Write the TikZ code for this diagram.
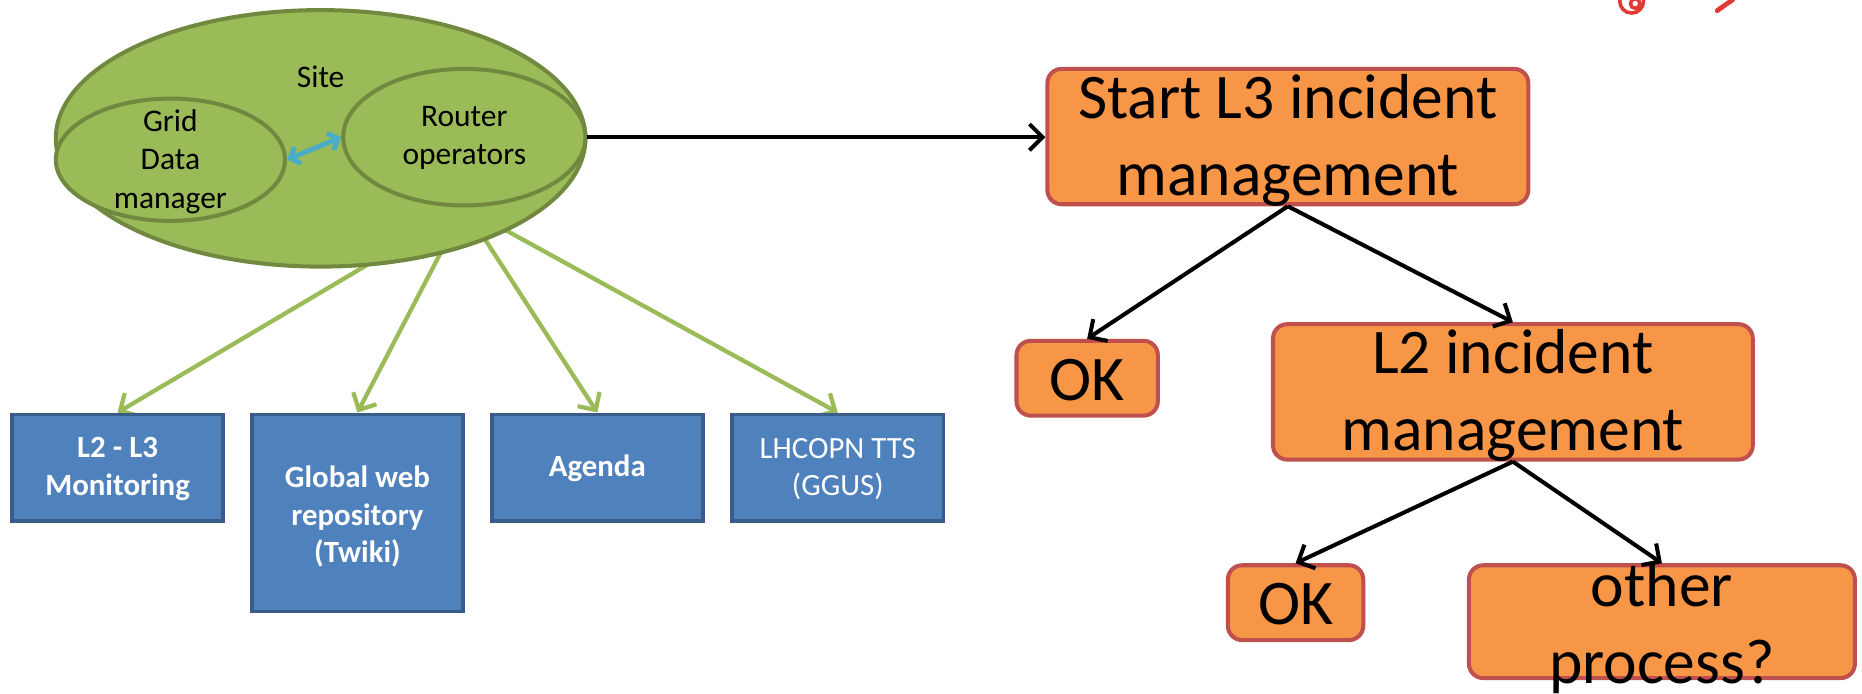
\documentclass[tikz,border=0pt]{standalone}
\usepackage{fontspec}
\setmainfont{Carlito}
\usetikzlibrary{arrows.meta,shapes.geometric}

\definecolor{sitegreen}{HTML}{9BBB59}
\definecolor{siteedge}{HTML}{71893F}
\definecolor{toolblue}{HTML}{4F81BD}
\definecolor{tooledge}{HTML}{385D8A}
\definecolor{procorange}{HTML}{F79646}
\definecolor{procedge}{HTML}{C0504D}
\definecolor{linkcyan}{HTML}{4BACC6}
\definecolor{logored}{HTML}{E03A33}

\pgfdeclarelayer{background}
\pgfsetlayers{background,main}

\begin{document}
\begin{tikzpicture}[x=1pt,y=-1pt,
  zone/.style={ellipse, draw=siteedge, fill=sitegreen, line width=3.4pt, inner sep=0pt},
  toolbox/.style={rectangle, draw=tooledge, fill=toolblue, line width=3.2pt, inner sep=0pt, minimum width=178pt},
  procbox/.style={rectangle, rounded corners=12pt, draw=procedge, fill=procorange, line width=3.4pt, inner sep=0pt},
  tooltext/.style={text=white, font=\fontsize{26}{31.5}\selectfont\bfseries, align=center},
  toolplain/.style={text=white, font=\fontsize{26}{31.5}\selectfont, align=center},
  proctext/.style={font=\fontsize{53.5}{65}\selectfont, align=center},
  zonetext/.style={font=\fontsize{26.5}{32.3}\selectfont, align=center},
  feed/.style={draw=sitegreen, line width=3.6pt, -{Straight Barb[length=11pt,width=22pt]}},
  flow/.style={draw=black, line width=3.4pt, -{Straight Barb[length=11pt,width=22pt]}},
  pairlink/.style={draw=linkcyan, line width=4.2pt, {Straight Barb[length=7pt,width=15pt]}-{Straight Barb[length=7pt,width=15pt]}}
]
\useasboundingbox (0,0) rectangle (1568,584);

% site and its two groups
\node[zone, minimum width=446pt, minimum height=216pt] (site) at (270,116.5) {};
\node[zone, minimum width=193pt, minimum height=103pt] (grid) at (143.5,134.5) {};
\node[zone, minimum width=204pt, minimum height=115pt] (router) at (391,115.5) {};
\node[zonetext] (sitelabel) at (270,65) {Site};
\node[zonetext] (gridlabel) at (143.5,136) {Grid\\Data\\manager};
\node[zonetext] (routerlabel) at (391,116) {Router\\operators};
\draw[pairlink] (grid.east) -- (router.west);

% tools used by the router operators
\node[toolbox, minimum height=90pt]  (mon)   at (99,394)    {};
\node[toolbox, minimum height=166pt] (twiki) at (301,432)   {};
\node[toolbox, minimum height=90pt]  (agenda) at (503,394)  {};
\node[toolbox, minimum height=90pt]  (tts)   at (705.5,394) {};
\node[tooltext]  (montext)    at (99,395)    {L2 - L3\\Monitoring};
\node[tooltext]  (twikitext)  at (301,435)   {Global web\\repository\\(Twiki)};
\node[tooltext]  (agendatext) at (503,394)   {Agenda};
\node[toolplain] (ttstext)    at (705.5,395) {LHCOPN TTS\\(GGUS)};

\begin{pgfonlayer}{background}
  \foreach \t in {mon,twiki,agenda,tts}
    \draw[feed] (router.south) -- (\t.north);
\end{pgfonlayer}

% incident management flow
\node[procbox, minimum width=405pt, minimum height=114pt] (start) at (1084.5,115) {};
\node[procbox, minimum width=119pt, minimum height=63pt]  (okone) at (915.5,318.5) {};
\node[procbox, minimum width=404pt, minimum height=114pt] (ltwo)  at (1274,330)   {};
\node[procbox, minimum width=114pt, minimum height=63pt]  (oktwo) at (1091,507.5) {};
\node[procbox, minimum width=325pt, minimum height=95pt]  (other) at (1399.5,523.5) {};
\node[proctext] (starttext) at (1084.5,118) {Start L3 incident\\management};
\node[proctext] (okonetext) at (915.5,320)  {OK};
\node[proctext] (ltwotext)  at (1274,333)   {L2 incident\\management};
\node[proctext] (oktwotext) at (1091,509)   {OK};
\node[proctext] (othertext) at (1399.5,529) {other\\process?};

\draw[flow] (router.east) -- (router.east -| start.west);
\draw[flow] (start.south) -- (okone.north);
\draw[flow] (start.south) -- (ltwo.north);
\draw[flow] (ltwo.south) -- (oktwo.north);
\draw[flow] (ltwo.south) -- (other.north);

% corner emblem fragment
\draw[logored, line width=3pt] (1374,1) circle (10pt);
\draw[logored, line width=3pt] (1377,3) circle (4pt);
\draw[logored, line width=4pt, line cap=round] (1446,9) -- (1453,4) -- (1459,0);
\end{tikzpicture}
\end{document}
